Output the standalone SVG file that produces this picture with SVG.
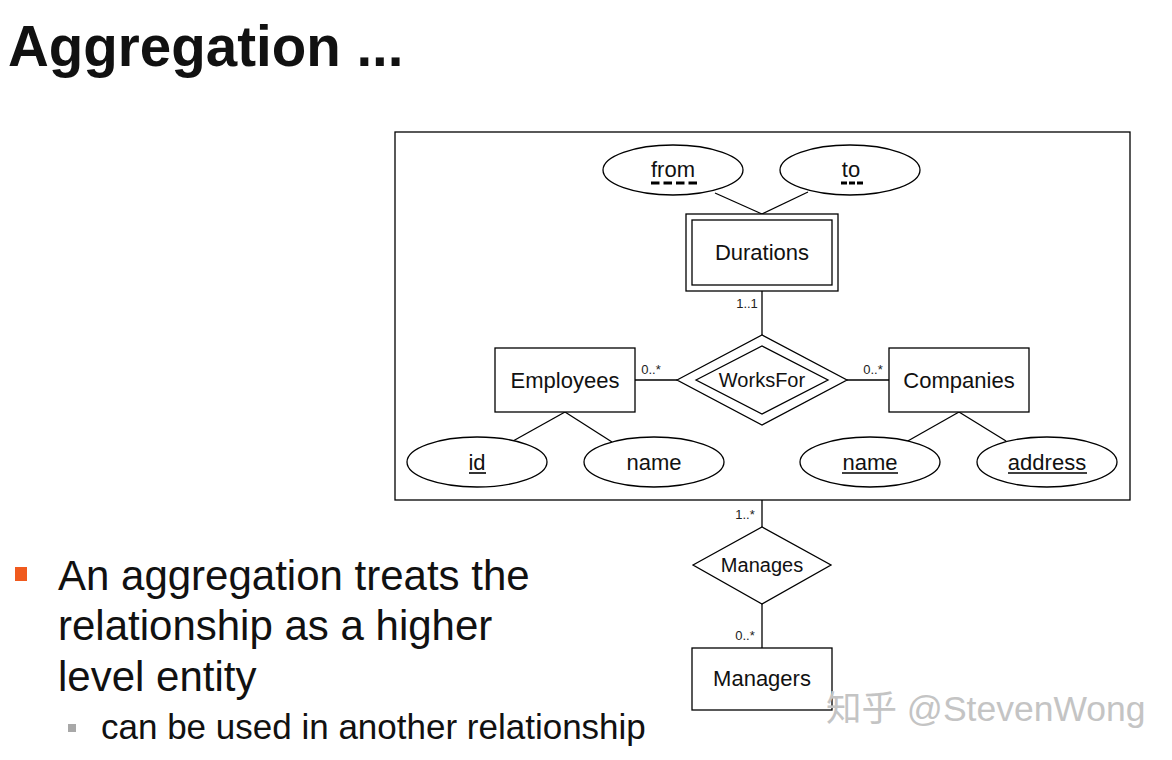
<svg xmlns="http://www.w3.org/2000/svg" width="1172" height="760" viewBox="0 0 1172 760">
<style>
.ln{stroke:#000;stroke-width:1.3;fill:none}
.bx{stroke:#000;stroke-width:1.3;fill:#fff}
.t{font-family:"Liberation Sans",Arial,sans-serif;fill:#111;text-anchor:middle}
.lab{font-size:22px}
.rel{font-size:20px}
.card{font-family:"Liberation Sans",Arial,sans-serif;font-size:13px;fill:#222;text-anchor:middle}
.body{font-family:"Liberation Sans",Arial,sans-serif;fill:#111}
.ul{stroke:#000;stroke-width:1.6}
.dul{stroke:#000;stroke-width:3}
</style>
<rect width="1172" height="760" fill="#fff"/>
<text x="8" y="66" class="body" font-size="56.5" font-weight="bold" fill="#1a1a1a">Aggregation ...</text>

<g id="aggregation">
<rect x="395" y="132" width="735" height="368" class="ln"/>
</g>

<g id="connectors">
<line x1="715" y1="193" x2="762" y2="214" class="ln"/>
<line x1="808" y1="192" x2="762" y2="214" class="ln"/>
<line x1="762" y1="291" x2="762" y2="335" class="ln"/>
<line x1="635" y1="380" x2="677" y2="380" class="ln"/>
<line x1="847" y1="380" x2="889" y2="380" class="ln"/>
<line x1="565" y1="412" x2="513" y2="441" class="ln"/>
<line x1="565" y1="412" x2="612" y2="442" class="ln"/>
<line x1="959" y1="412" x2="906" y2="442" class="ln"/>
<line x1="959" y1="412" x2="1006" y2="441" class="ln"/>
<line x1="762" y1="500" x2="762" y2="527" class="ln"/>
<line x1="762" y1="604" x2="762" y2="648" class="ln"/>
<text x="747" y="308" class="card">1..1</text>
<text x="651" y="374" class="card">0..*</text>
<text x="873" y="374" class="card">0..*</text>
<text x="745" y="519" class="card">1..*</text>
<text x="745" y="640" class="card">0..*</text>
</g>

<g id="from">
<ellipse cx="673" cy="170" rx="70" ry="25" class="bx"/>
<text x="673" y="177" class="t lab">from</text>
<line x1="651" y1="183" x2="697" y2="183" class="dul" stroke-dasharray="8.5 4"/>
</g>
<g id="to">
<ellipse cx="850" cy="170" rx="70" ry="25" class="bx"/>
<text x="851" y="177" class="t lab">to</text>
<line x1="841" y1="183" x2="863" y2="183" class="dul" stroke-dasharray="6 2"/>
</g>

<g id="durations">
<rect x="686" y="214" width="152" height="77" class="bx"/>
<rect x="692" y="220" width="140" height="65" class="bx"/>
<text x="762" y="260" class="t lab">Durations</text>
</g>

<g id="worksfor">
<polygon points="677,380 762,335 847,380 762,425" class="bx"/>
<polygon points="696,380 762,346 828,380 762,414" class="bx"/>
<text x="762" y="387" class="t rel">WorksFor</text>
</g>

<g id="employees">
<rect x="495" y="348" width="140" height="64" class="bx"/>
<text x="565" y="388" class="t lab">Employees</text>
</g>

<g id="companies">
<rect x="889" y="348" width="140" height="64" class="bx"/>
<text x="959" y="388" class="t lab">Companies</text>
</g>

<g id="emp-id">
<ellipse cx="477" cy="462" rx="70" ry="25" class="bx"/>
<text x="477" y="470" class="t lab">id</text>
<line x1="469" y1="473" x2="486" y2="473" class="ul"/>
</g>
<g id="emp-name">
<ellipse cx="654" cy="462" rx="70" ry="25" class="bx"/>
<text x="654" y="470" class="t lab">name</text>
</g>
<g id="comp-name">
<ellipse cx="870" cy="462" rx="70" ry="25" class="bx"/>
<text x="870" y="470" class="t lab">name</text>
<line x1="842" y1="473" x2="898" y2="473" class="ul"/>
</g>
<g id="comp-address">
<ellipse cx="1047" cy="462" rx="70" ry="25" class="bx"/>
<text x="1047" y="470" class="t lab">address</text>
<line x1="1008" y1="473" x2="1087" y2="473" class="ul"/>
</g>

<g id="manages">
<polygon points="693,565 762,527 831,565 762,604" class="bx"/>
<text x="762" y="572" class="t rel">Manages</text>
</g>

<g id="managers">
<rect x="692" y="648" width="140" height="62" class="bx"/>
<text x="762" y="686" class="t lab">Managers</text>
</g>

<rect x="15" y="567" width="12" height="14" fill="#f05a1e"/>
<text x="58" y="590" class="body" font-size="42">An aggregation treats the</text>
<text x="58" y="640" class="body" font-size="42">relationship as a higher</text>
<text x="58" y="691" class="body" font-size="42">level entity</text>
<rect x="68" y="724" width="8" height="8" fill="#a8a8a8"/>
<text x="101" y="739" class="body" font-size="35">can be used in another relationship</text>

<text x="826" y="721" font-family="'Liberation Sans','Noto Sans CJK SC',sans-serif" font-size="35.5" fill="#c4c4c4">知乎 @StevenWong</text>
</svg>
